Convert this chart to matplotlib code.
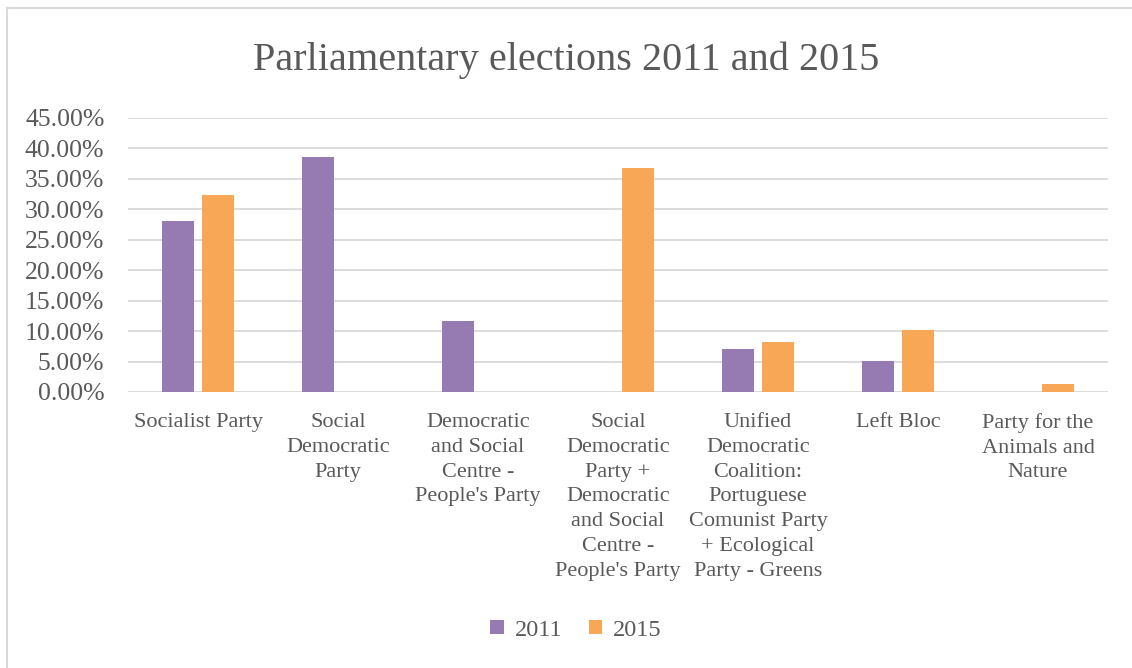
import matplotlib.pyplot as plt
from matplotlib.lines import Line2D
from matplotlib.ticker import FuncFormatter
import numpy as np

categories = [
    "Socialist Party",
    "Social\nDemocratic\nParty",
    "Democratic\nand Social\nCentre -\nPeople's Party",
    "Social\nDemocratic\nParty +\nDemocratic\nand Social\nCentre -\nPeople's Party",
    "Unified\nDemocratic\nCoalition:\nPortuguese\nComunist Party\n+ Ecological\nParty - Greens",
    "Left Bloc",
    "Party for the\nAnimals and\nNature",
]
v2011 = [28.05, 38.66, 11.71, 0, 7.1, 5.17, 0]
v2015 = [32.31, 0, 0, 36.86, 8.25, 10.19, 1.39]
years = ["2011", "2015"]

purple = "#957BB1"
orange = "#F8A757"
grey = "#595959"

plt.rcParams["font.family"] = ["Liberation Serif", "DejaVu Serif"]

fig = plt.figure(figsize=(11.32, 6.68), dpi=100)
ax = fig.add_axes([128 / 1132, (668 - 392) / 668, 980 / 1132, 274 / 668])

x = np.arange(len(categories))
w = 0.23
ax.bar(x - 0.143, v2011, w, color=purple, label=years[0], zorder=3)
ax.bar(x + 0.143, v2015, w, color=orange, label=years[1], zorder=3)

ax.set_xlim(-0.5, len(categories) - 0.5)
ax.set_ylim(0, 45)
ax.set_yticks(np.arange(0, 46, 5))
ax.yaxis.set_major_formatter(FuncFormatter(lambda v, p: f"{v:.2f}%"))
ax.grid(axis="y", color="#D9D9D9", linewidth=1.3, zorder=0)
for s in ax.spines.values():
    s.set_visible(False)
ax.tick_params(length=0, labelcolor=grey)
ax.tick_params(axis="y", labelsize=18.5, pad=17)
ax.set_xticks(x)
ax.set_xticklabels(categories, fontsize=16, linespacing=1.42)
ax.tick_params(axis="x", pad=15)

fig.text(0.5, (668 - 60) / 668, "Parliamentary elections 2011 and 2015",
         ha="center", va="center", fontsize=29, color=grey)

fig.legend(loc="center", bbox_to_anchor=(0.5 + 10 / 1132, (668 - 630) / 668), ncol=2,
           frameon=False, fontsize=17.5, labelcolor=grey, handlelength=0.55,
           handleheight=0.55, handletextpad=0.45, columnspacing=1.1)

fig.add_artist(Line2D([7 / 1132, 7 / 1132], [0, (668 - 8) / 668],
                      color="#D9D9D9", linewidth=1.5, transform=fig.transFigure))
fig.add_artist(Line2D([7 / 1132, 1], [(668 - 8) / 668, (668 - 8) / 668],
                      color="#D9D9D9", linewidth=1.5, transform=fig.transFigure))

fig.savefig("out.png", dpi=100)
